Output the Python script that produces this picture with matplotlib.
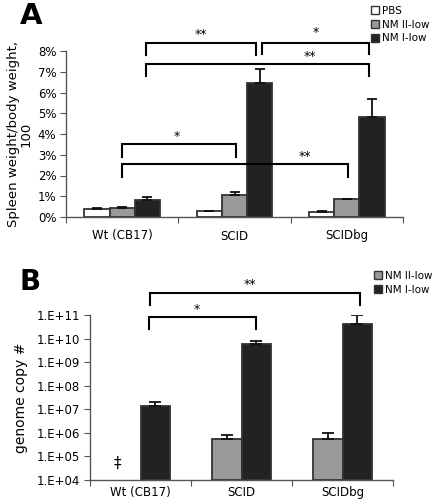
import numpy as np
import matplotlib
matplotlib.use("Agg")
import matplotlib.pyplot as plt
from matplotlib.ticker import FixedLocator, FuncFormatter, NullFormatter
from matplotlib.patches import Patch

plt.rcParams['font.family'] = ['DejaVu Sans']

# ---- data ----
groups = ['Wt (CB17)', 'SCID', 'SCIDbg']

# panel A: spleen weight / body weight (%)
a_series = ['PBS', 'NM II-low', 'NM I-low']
a_pbs = [0.38, 0.29, 0.25]
a_pbs_err = [0.05, 0.02, 0.02]
a_nm2 = [0.42, 1.06, 0.85]
a_nm2_err = [0.07, 0.13, 0.03]
a_nm1 = [0.82, 6.47, 4.80]
a_nm1_err = [0.14, 0.64, 0.87]

# panel B: genome copy number (PBS not shown, Wt NM II-low below detection)
b_series = ['NM II-low', 'NM I-low']
b_nm2 = [np.nan, 5.5e5, 5.5e5]
b_nm2_err = [np.nan, 2.6e5, 4.5e5]
b_nm1 = [1.4e7, 5.9e9, 4.1e10]
b_nm1_err = [0.6e7, 2.2e9, 5.9e10]

# brackets: (x_left, x_right, y_line, y_leg_left, y_leg_right, label, label_x, label_y)
a_brackets = [
    (0.212, 1.19, 8.37, 7.81, 7.82, '**', 0.70, 8.78),
    (1.243, 2.20, 8.37, 7.84, 7.84, '*', 1.72, 8.90),
    (0.212, 2.20, 7.37, 6.80, 6.80, '**', 1.67, 7.72),
    (0.000, 1.014, 3.50, 2.91, 2.91, '*', 0.49, 3.87),
    (0.000, 2.008, 2.54, 1.94, 1.94, '**', 1.63, 2.90),
]
b_brackets = [
    (0.09, 2.17, 11.95, 11.42, 11.42, '**', 1.08, 12.28),
    (0.08, 1.14, 10.93, 10.39, 10.39, '*', 0.56, 11.22),
]

white = '#ffffff'
gray = '#999999'
black = '#222222'
edge = '#333333'

fig = plt.figure(figsize=(4.34, 5.04), dpi=100)

# ---------------- panel A ----------------
axA = fig.add_axes([66 / 434, 1 - 217 / 504, 337 / 434, 166 / 504])
x = np.arange(len(groups))
w = 0.225
for vals, errs, col, off in [(a_pbs, a_pbs_err, white, -w),
                             (a_nm2, a_nm2_err, gray, 0),
                             (a_nm1, a_nm1_err, black, w)]:
    axA.bar(x + off, vals, width=w, color=col, edgecolor=edge, linewidth=1.3, zorder=2)
    axA.errorbar(x + off, vals, yerr=[np.zeros(len(errs)), errs], fmt='none',
                 ecolor='#111111', elinewidth=1.3, capsize=3.5, capthick=1.3, zorder=3)

axA.set_xlim(-0.5, 2.5)
axA.set_ylim(0, 8)
axA.yaxis.set_major_locator(FixedLocator(range(0, 9)))
axA.yaxis.set_major_formatter(FuncFormatter(lambda v, p: f'{v:.0f}%'))
axA.set_ylabel('Spleen weight/body weight,\n100', fontsize=9.5, linespacing=0.9, labelpad=4)

for (xl, xr, yl, yll, ylr, lab, lx, ly) in a_brackets:
    axA.plot([xl, xl, xr, xr], [yll, yl, yl, ylr], color='black', lw=1.5,
             clip_on=False, solid_joinstyle='miter', zorder=4)
    axA.text(lx, ly, lab, ha='center', va='center', fontsize=9)

axA.legend([Patch(facecolor=c, edgecolor=edge) for c in (white, gray, black)], a_series,
           loc='upper left', bbox_to_anchor=(371 / 434, 1 - 6 / 504),
           bbox_transform=fig.transFigure, frameon=False, fontsize=7.5,
           handlelength=0.8, handleheight=0.8, handletextpad=0.25, labelspacing=0.35,
           borderaxespad=0, borderpad=0)

# ---------------- panel B ----------------
axB = fig.add_axes([90 / 434, 1 - 480 / 504, 303 / 434, 165 / 504])
wb = 0.29
for vals, errs, col, off in [(b_nm2, b_nm2_err, gray, -wb / 2),
                             (b_nm1, b_nm1_err, black, wb / 2)]:
    vals = np.array(vals)
    errs = np.array(errs)
    m = ~np.isnan(vals)
    axB.bar(x[m] + off, vals[m], width=wb, bottom=1e4, color=col, edgecolor=edge,
            linewidth=1.3, zorder=2)
    axB.errorbar(x[m] + off, vals[m], yerr=[np.zeros(m.sum()), errs[m]], fmt='none',
                 ecolor='#111111', elinewidth=1.3, capsize=4, capthick=1.3, zorder=3)

axB.set_yscale('log')
axB.set_xlim(-0.5, 2.5)
axB.set_ylim(1e4, 1e11)
axB.yaxis.set_major_locator(FixedLocator([10.0 ** k for k in range(4, 12)]))
axB.yaxis.set_major_formatter(FuncFormatter(lambda v, p: f'1.E+{int(round(np.log10(v))):02d}'))
axB.yaxis.set_minor_formatter(NullFormatter())
axB.tick_params(axis='y', which='minor', length=0)
axB.set_ylabel('genome copy #', fontsize=10, labelpad=6)

axB.text(-0.225, 10 ** 4.72, '\u2021', ha='center', va='center', fontsize=11)

for (xl, xr, yl, yll, ylr, lab, lx, ly) in b_brackets:
    axB.plot([xl, xl, xr, xr], [10 ** yll, 10 ** yl, 10 ** yl, 10 ** ylr], color='black',
             lw=1.5, clip_on=False, solid_joinstyle='miter', zorder=4)
    axB.text(lx, 10 ** ly, lab, ha='center', va='center', fontsize=9)

axB.legend([Patch(facecolor=c, edgecolor=edge) for c in (gray, black)], b_series,
           loc='upper left', bbox_to_anchor=(374 / 434, 1 - 271 / 504),
           bbox_transform=fig.transFigure, frameon=False, fontsize=7.5,
           handlelength=0.8, handleheight=0.8, handletextpad=0.25, labelspacing=0.35,
           borderaxespad=0, borderpad=0)

# common axis styling
for ax, cpad in ((axA, 9), (axB, 4.5)):
    for s in ('top', 'right'):
        ax.spines[s].set_visible(False)
    for s in ('left', 'bottom'):
        ax.spines[s].set_color('#555555')
        ax.spines[s].set_linewidth(1.0)
    ax.set_xticks([-0.5, 0.5, 1.5, 2.5])
    ax.set_xticklabels([])
    ax.set_xticks(x, minor=True)
    ax.set_xticklabels(groups, minor=True, fontsize=8.5)
    ax.tick_params(axis='x', which='minor', length=0, pad=cpad)
    ax.tick_params(axis='x', which='major', length=4, color='#555555', direction='out')
    ax.tick_params(axis='y', which='major', length=4, color='#555555', labelsize=8.5, pad=3)

fig.text(20 / 434, 1 - 16 / 504, 'A', fontsize=21, fontweight='bold', va='center', ha='left')
fig.text(20 / 434, 1 - 282 / 504, 'B', fontsize=20, fontweight='bold', va='center', ha='left')

fig.savefig('out.png', dpi=100)
